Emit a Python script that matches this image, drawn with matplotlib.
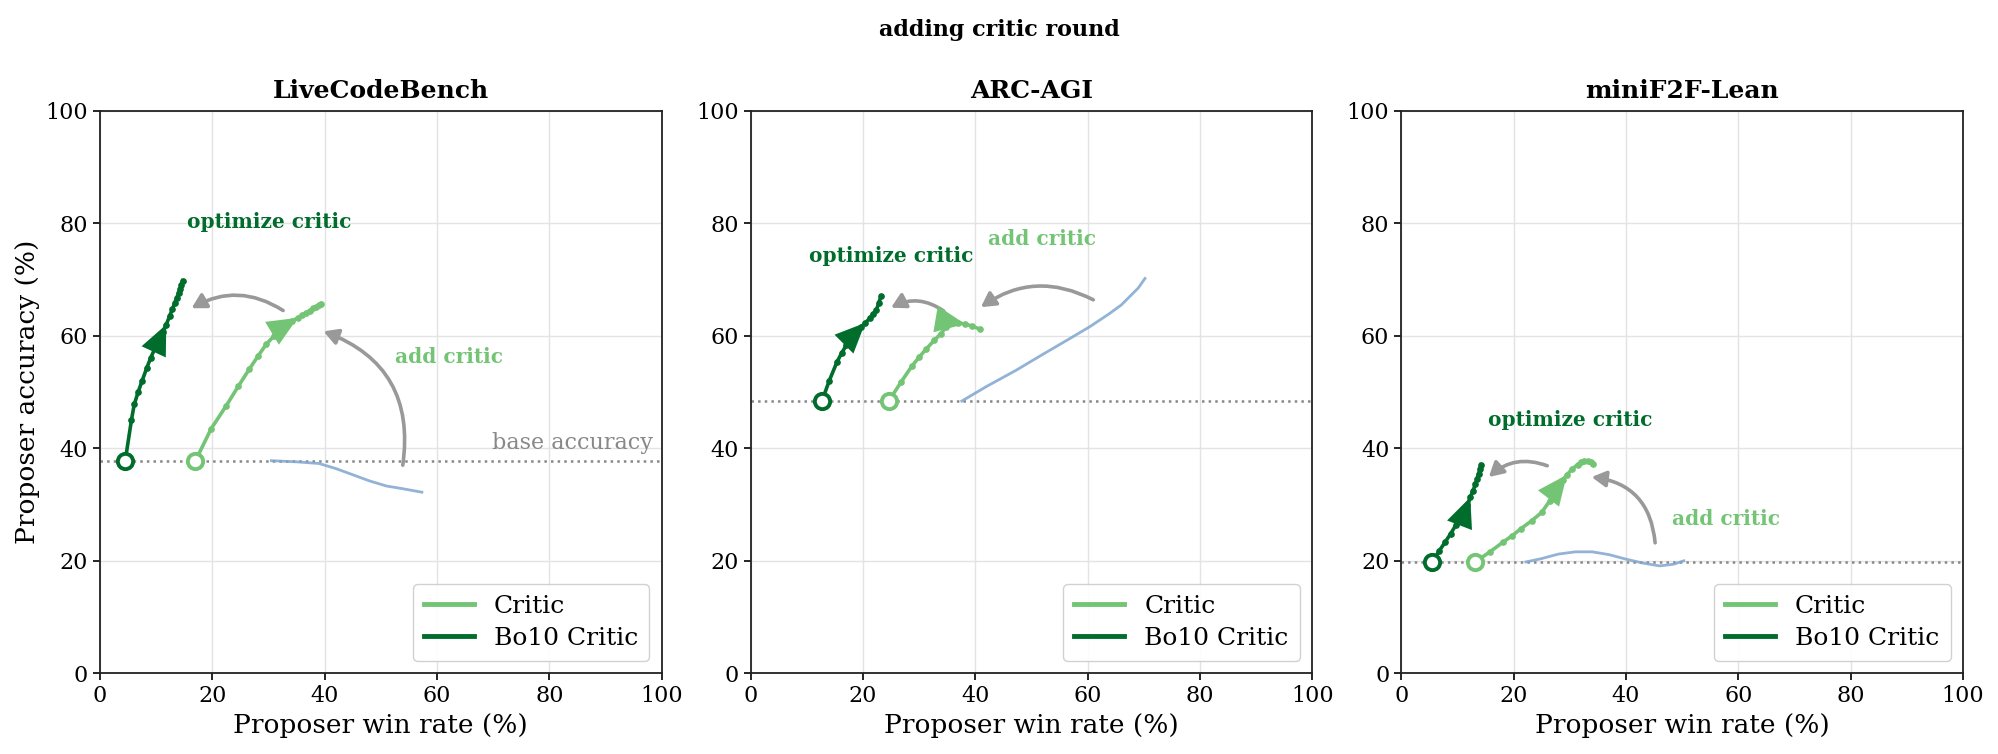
import matplotlib
matplotlib.use("Agg")
import matplotlib.pyplot as plt
from matplotlib.lines import Line2D

plt.rcParams['font.family'] = ['DejaVu Serif']

# ---------------- data ----------------
panels = ["LiveCodeBench", "ARC-AGI", "miniF2F-Lean"]
base_acc = [37.8, 48.4, 19.8]

# LiveCodeBench
lcb_bo10_x = [4.5, 5.6, 6.1, 6.8, 7.5, 8.3, 9.0, 9.8, 10.5, 11.2, 11.8, 12.4, 12.9, 13.3, 13.7, 14.0, 14.3, 14.5, 14.7]
lcb_bo10_y = [37.8, 45.0, 47.8, 50.0, 52.0, 54.2, 56.0, 57.8, 59.3, 60.7, 62.0, 63.5, 64.8, 65.8, 66.8, 67.6, 68.4, 69.1, 69.8]
lcb_critic_x = [17.0, 19.8, 22.5, 24.6, 26.6, 28.2, 29.6, 31.0, 32.0, 33.2, 34.2, 35.2, 36.0, 36.7, 37.4, 38.0, 38.5, 39.0, 39.3]
lcb_critic_y = [37.8, 43.5, 47.6, 51.0, 54.1, 56.5, 58.5, 60.0, 61.2, 62.0, 62.6, 63.2, 63.7, 64.1, 64.5, 64.9, 65.2, 65.5, 65.7]
lcb_base_x = [30.5, 35.0, 39.0, 42.0, 45.0, 48.0, 51.0, 54.0, 57.3]
lcb_base_y = [37.8, 37.6, 37.3, 36.4, 35.3, 34.2, 33.3, 32.8, 32.2]

# ARC-AGI
arc_bo10_x = [12.7, 14.0, 15.4, 16.2, 17.05, 18.2, 19.0, 19.7, 20.4, 21.2, 21.8, 22.4, 22.8, 23.2]
arc_bo10_y = [48.4, 52.0, 55.4, 56.9, 58.35, 60.4, 61.0, 61.6, 62.3, 63.1, 63.9, 64.6, 65.8, 67.0]
arc_critic_x = [24.6, 26.8, 28.7, 30.0, 31.2, 32.7, 33.9, 34.8, 35.8, 37.0, 38.2, 39.5, 40.8]
arc_critic_y = [48.4, 51.8, 54.6, 56.2, 57.6, 59.2, 60.4, 61.6, 62.2, 62.3, 62.1, 61.7, 61.2]
arc_base_x = [37.6, 42.0, 47.3, 52.0, 56.8, 60.5, 63.8, 66.0, 67.4, 69.0, 70.2]
arc_base_y = [48.4, 51.0, 53.9, 56.7, 59.5, 61.7, 63.9, 65.5, 66.9, 68.5, 70.2]

# miniF2F-Lean
mf_bo10_x = [5.5, 6.8, 7.8, 8.8, 9.7, 10.5, 11.2, 11.8, 12.3, 12.8, 13.2, 13.5, 13.8, 14.0, 14.2]
mf_bo10_y = [19.8, 21.8, 23.3, 24.8, 26.3, 27.6, 28.8, 30.0, 31.3, 32.5, 33.6, 34.6, 35.5, 36.3, 37.1]
mf_critic_x = [13.2, 15.8, 18.1, 19.8, 21.3, 23.2, 25.0, 26.4, 27.6, 28.8, 29.5, 30.4, 31.4, 32.0, 32.6, 33.2, 33.8, 34.2]
mf_critic_y = [19.8, 21.6, 23.3, 24.5, 25.7, 27.1, 28.6, 30.6, 32.7, 34.4, 35.3, 36.3, 37.1, 37.5, 37.7, 37.7, 37.5, 37.3]
mf_base_x = [22.2, 25.0, 28.0, 31.0, 34.0, 37.0, 40.0, 43.0, 46.0, 48.5, 50.3]
mf_base_y = [19.8, 20.4, 21.2, 21.6, 21.6, 21.1, 20.3, 19.6, 19.1, 19.4, 20.0]

series = [
    dict(bo10=(lcb_bo10_x, lcb_bo10_y), critic=(lcb_critic_x, lcb_critic_y), base=(lcb_base_x, lcb_base_y)),
    dict(bo10=(arc_bo10_x, arc_bo10_y), critic=(arc_critic_x, arc_critic_y), base=(arc_base_x, arc_base_y)),
    dict(bo10=(mf_bo10_x, mf_bo10_y), critic=(mf_critic_x, mf_critic_y), base=(mf_base_x, mf_base_y)),
]

# annotation layout (positions of gray arrows / labels)
layout = [
    dict(bo10_head=9, critic_head=10,
         add_arrow=((53.9, 37.0), (39.8, 60.8), 0.4), opt_arrow=((32.6, 64.5), (16.3, 64.9), 0.3),
         add_text=(62.2, 56.2), opt_text=(30.2, 80.2), base_label=True),
    dict(bo10_head=7, critic_head=9,
         add_arrow=((61.0, 66.4), (41.0, 65.1), 0.3), opt_arrow=((34.4, 64.4), (25.0, 65.0), 0.3),
         add_text=(51.9, 77.2), opt_text=(25.0, 74.2), base_label=False),
    dict(bo10_head=7, critic_head=9,
         add_arrow=((45.2, 23.2), (33.9, 34.9), 0.4), opt_arrow=((26.0, 36.9), (15.6, 34.9), 0.3),
         add_text=(57.9, 27.4), opt_text=(30.1, 45.1), base_label=False),
]

DARK = '#006d2c'
LIGHT = '#74c476'
BLUE = '#7fa5cf'
GRAY = '#999999'

fig, axes = plt.subplots(1, 3, figsize=(19.99, 7.54), dpi=100)
fig.subplots_adjust(left=0.05, right=0.982, top=0.853, bottom=0.107, wspace=0.158)

for ax, name, b, s, lay in zip(axes, panels, base_acc, series, layout):
    ax.set_xlim(0, 100)
    ax.set_ylim(0, 100)
    ax.set_xticks(range(0, 101, 20))
    ax.set_yticks(range(0, 101, 20))
    ax.grid(True, color='#e3e3e3', lw=1.0)
    ax.set_axisbelow(True)
    ax.tick_params(labelsize=16, length=5, width=1.2)
    for sp in ax.spines.values():
        sp.set_linewidth(1.3)
        sp.set_color('#222222')

    ax.axhline(b, color='#888888', ls=':', lw=1.8, zorder=1)

    bx, by = s['base']
    ax.plot(bx, by, color=BLUE, lw=2.0, alpha=0.85, zorder=2)

    for key, col, hidx in (('critic', LIGHT, lay['critic_head']), ('bo10', DARK, lay['bo10_head'])):
        xs, ys = s[key]
        ax.plot(xs, ys, color=col, lw=2.6, zorder=3)
        ax.plot(xs[1:], ys[1:], 'o', color=col, ms=3.8, zorder=4)
        ax.plot(xs[0], ys[0], 'o', mfc='white', mec=col, mew=2.8, ms=11, zorder=5)
        ax.annotate('', xy=(xs[hidx + 1], ys[hidx + 1]), xytext=(xs[hidx], ys[hidx]),
                    arrowprops=dict(arrowstyle='-|>,head_length=0.9,head_width=0.4',
                                    mutation_scale=24, color=col, lw=0, shrinkA=0, shrinkB=0),
                    zorder=6)

    for (p0, p1, rad) in (lay['add_arrow'], lay['opt_arrow']):
        ax.annotate('', xy=p1, xytext=p0,
                    arrowprops=dict(arrowstyle='-|>,head_length=0.5,head_width=0.28',
                                    mutation_scale=17, color=GRAY, lw=2.6,
                                    connectionstyle=f'arc3,rad={rad}', shrinkA=0, shrinkB=0),
                    zorder=2)

    ax.text(*lay['add_text'], 'add critic', color=LIGHT, fontsize=14.5, fontweight='bold',
            ha='center', va='center')
    ax.text(*lay['opt_text'], 'optimize critic', color=DARK, fontsize=14.5, fontweight='bold',
            ha='center', va='center')
    if lay['base_label']:
        ax.text(98.5, b + 1.2, 'base accuracy', color='#888888', fontsize=16, ha='right', va='bottom')

    ax.set_title(name, fontsize=18, fontweight='bold', pad=9)
    ax.set_xlabel('Proposer win rate (%)', fontsize=19)

    handles = [Line2D([0], [0], color=LIGHT, lw=3.5), Line2D([0], [0], color=DARK, lw=3.5)]
    ax.legend(handles, ['Critic', 'Bo10 Critic'], loc='lower right', fontsize=18,
              framealpha=0.9, edgecolor='#cccccc', borderpad=0.45, handlelength=2.0,
              labelspacing=0.35)

axes[0].set_ylabel('Proposer accuracy (%)', fontsize=19)
fig.suptitle('adding critic round', fontsize=16, fontweight='bold', y=0.975)

fig.savefig('out.png', dpi=100)
